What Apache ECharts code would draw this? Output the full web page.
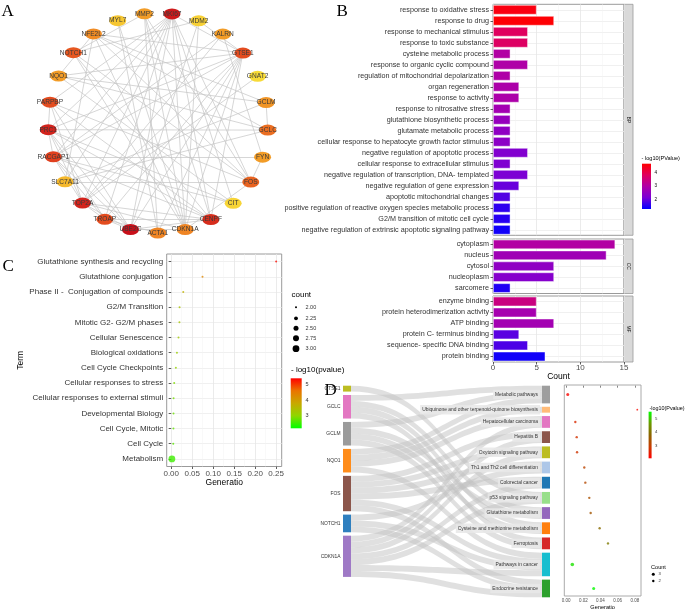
<!DOCTYPE html>
<html><head><meta charset="utf-8">
<script src="https://cdn.jsdelivr.net/npm/echarts@6/dist/echarts.min.js"></script>
<style>html,body{margin:0;padding:0;background:#fff}#c{width:685px;height:610px}</style>
</head><body><div id="c"></div><script>
// ---------- Panel A: PPI network ----------
const netNodes = ['GCLC','FYN','FOS','CIT','CENPF','CDKN1A','ACTA1','UBE2C','TROAP','TOP2A','SLC7A11','RACGAP1','PRC1','PARPBP','NQO1','NOTCH1','NFE2L2','MYL7','MMP2','MKI67','MDM2','KALRN','GTSE1','GNAT2','GCLM'];
const netScore = [0.55,0.35,0.6,0.08,0.85,0.45,0.45,1.0,0.7,0.9,0.22,0.75,0.9,0.7,0.35,0.65,0.42,0.15,0.35,0.95,0.1,0.35,0.7,0.05,0.38];
const netEdges = [
['MKI67','TOP2A'],['MKI67','PRC1'],['MKI67','UBE2C'],['MKI67','CENPF'],['MKI67','TROAP'],['MKI67','RACGAP1'],['MKI67','PARPBP'],['MKI67','GTSE1'],['MKI67','CIT'],['MKI67','CDKN1A'],
['TOP2A','PRC1'],['TOP2A','UBE2C'],['TOP2A','CENPF'],['TOP2A','TROAP'],['TOP2A','RACGAP1'],['TOP2A','PARPBP'],['TOP2A','GTSE1'],['TOP2A','CDKN1A'],['TOP2A','KALRN'],
['PRC1','UBE2C'],['PRC1','CENPF'],['PRC1','TROAP'],['PRC1','RACGAP1'],['PRC1','PARPBP'],['PRC1','GTSE1'],['PRC1','CIT'],['PRC1','GCLC'],
['UBE2C','CENPF'],['UBE2C','TROAP'],['UBE2C','RACGAP1'],['UBE2C','GTSE1'],['UBE2C','CDKN1A'],['UBE2C','PARPBP'],['UBE2C','MDM2'],
['CENPF','RACGAP1'],['CENPF','TROAP'],['CENPF','GTSE1'],['CENPF','PARPBP'],['CENPF','NOTCH1'],
['RACGAP1','TROAP'],['RACGAP1','CIT'],['RACGAP1','GTSE1'],['RACGAP1','KALRN'],['RACGAP1','FYN'],
['GTSE1','CDKN1A'],['GTSE1','MDM2'],['GTSE1','TROAP'],['GTSE1','NQO1'],['GTSE1','ACTA1'],
['CDKN1A','MDM2'],['CDKN1A','FOS'],['CDKN1A','NOTCH1'],['CDKN1A','NFE2L2'],['CDKN1A','MMP2'],['CDKN1A','MYL7'],
['NFE2L2','NQO1'],['NFE2L2','GCLM'],['NFE2L2','GCLC'],['NFE2L2','SLC7A11'],['NFE2L2','FOS'],['NFE2L2','GTSE1'],
['NQO1','GCLC'],['NQO1','GCLM'],['GCLM','GCLC'],['SLC7A11','GCLM'],['SLC7A11','GCLC'],['SLC7A11','FOS'],
['FOS','NOTCH1'],['FOS','MMP2'],['FOS','FYN'],['FOS','PARPBP'],['MMP2','ACTA1'],['MYL7','ACTA1'],['FYN','KALRN'],
['GNAT2','TOP2A'],['NOTCH1','MDM2'],['MMP2','NOTCH1'],['MMP2','CENPF'],['ACTA1','TROAP'],['CIT','NQO1'],['MKI67','FOS'],['MKI67','SLC7A11']
];

// ---------- Panel B: GO enrichment ----------
const bpTerms = ['response to oxidative stress','response to drug','response to mechanical stimulus','response to toxic substance','cysteine metabolic process','response to organic cyclic compound','regulation of mitochondrial depolarization','organ regeneration','response to activity','response to nitrosative stress','glutathione biosynthetic process','glutamate metabolic process','cellular response to hepatocyte growth factor stimulus','negative regulation of apoptotic process','cellular response to extracellular stimulus','negative regulation of transcription, DNA- templated','negative regulation of gene expression','apoptotic mitochondrial changes','positive regulation of reactive oxygen species metabolic process','G2/M transition of mitotic cell cycle','negative regulation of extrinsic apoptotic signaling pathway'];
const bpCount = [5,7,4,4,2,4,2,3,3,2,2,2,2,4,2,4,3,2,2,2,2];
const bpLogP = [4.5,4.6,3.8,3.75,3.0,2.95,2.95,2.9,2.9,2.75,2.55,2.45,2.4,2.25,2.2,2.15,2.0,1.85,1.6,1.55,1.4];
const ccTerms = ['cytoplasm','nucleus','cytosol','nucleoplasm','sarcomere'];
const ccCount = [14,13,7,7,2];
const ccLogP = [3.0,2.7,2.45,2.3,1.5];
const mfTerms = ['enzyme binding','protein heterodimerization activity','ATP binding','protein C- terminus binding','sequence- specific DNA binding','protein binding'];
const mfCount = [5,5,7,3,4,6];
const mfLogP = [3.4,2.8,2.75,1.9,1.8,1.4];
const goStrips = ['BP','CC','MF'];

// ---------- Panel C: Reactome dot plot ----------
const reTerms = ['Glutathione synthesis and recycling','Glutathione conjugation','Phase II -  Conjugation of compounds','G2/M Transition','Mitotic G2- G2/M phases','Cellular Senescence','Biological oxidations','Cell Cycle Checkpoints','Cellular responses to stress','Cellular responses to external stimuli','Developmental Biology','Cell Cycle, Mitotic','Cell Cycle','Metabolism'];
const reRatio = [0.25,0.0745,0.0286,0.0199,0.0195,0.0173,0.0136,0.011,0.0071,0.0056,0.0054,0.0052,0.0048,0.0016];
const reCount = [2,2,2,2,2,2,2,2,2,2,2,2,2,3];
const reLogP = [5.3,4.3,3.65,3.35,3.3,3.25,3.15,3.05,2.9,2.85,2.8,2.75,2.7,2.55];
const reSizeLegend = [2.00,2.25,2.50,2.75,3.00];
const reColorTicks = [5,4,3];

// ---------- Panel D: KEGG sankey + dot plot ----------
const keggGenes = ['GTSE1','GCLC','GCLM','NQO1','FOS','NOTCH1','CDKN1A'];
const keggPaths = ['Metabolic pathways','Ubiquinone and other terpenoid-quinone biosynthesis','Hepatocellular carcinoma','Hepatitis B','Oxytocin signaling pathway','Th1 and Th2 cell differentiation','Colorectal cancer','p53 signaling pathway','Glutathione metabolism','Cysteine and methionine metabolism','Ferroptosis','Pathways in cancer','Endocrine resistance'];
const keggLinks = [
['GTSE1','p53 signaling pathway'],
['GCLC','Metabolic pathways'],['GCLC','Glutathione metabolism'],['GCLC','Cysteine and methionine metabolism'],['GCLC','Ferroptosis'],
['GCLM','Metabolic pathways'],['GCLM','Glutathione metabolism'],['GCLM','Cysteine and methionine metabolism'],['GCLM','Ferroptosis'],
['NQO1','Metabolic pathways'],['NQO1','Ubiquinone and other terpenoid-quinone biosynthesis'],['NQO1','Hepatocellular carcinoma'],['NQO1','Pathways in cancer'],
['FOS','Hepatitis B'],['FOS','Oxytocin signaling pathway'],['FOS','Th1 and Th2 cell differentiation'],['FOS','Colorectal cancer'],['FOS','Pathways in cancer'],['FOS','Endocrine resistance'],
['NOTCH1','Th1 and Th2 cell differentiation'],['NOTCH1','Pathways in cancer'],['NOTCH1','Endocrine resistance'],
['CDKN1A','Hepatocellular carcinoma'],['CDKN1A','Hepatitis B'],['CDKN1A','Oxytocin signaling pathway'],['CDKN1A','Colorectal cancer'],['CDKN1A','p53 signaling pathway'],['CDKN1A','Pathways in cancer'],['CDKN1A','Endocrine resistance']
];
const keggRatio = [0.002,0.0827,0.0108,0.0124,0.0128,0.0212,0.0224,0.027,0.0286,0.039,0.0487,0.0073,0.0321];
const keggLogP = [2.1,2.15,2.65,2.75,2.8,3.1,3.2,3.35,3.45,3.9,4.15,5.3,5.5];
const keggColorTicks = [5,4,3];
const keggCountLegend = [3,2];

// ---------- styles ----------
const FONT = '"Liberation Sans", Arial, Helvetica, sans-serif';
const geneColors = ['#bcbd22','#e377c2','#9b9b9b','#ff8c1a','#8c564b','#2f7fbf','#9f79c6'];
const pathColors = ['#9e9e9e','#ffbb78','#e377c2','#8c564b','#bcbd22','#aec7e8','#1f77b4','#98df8a','#9467bd','#ff7f0e','#d62728','#17becf','#2ca02c'];
const netPalette = ['#f8e43c','#f5b22a','#ee7a22','#e0401e','#c8101a'];
const bPalette = ['#0000ff','#7a00d6','#b000a6','#e0005e','#ff0000'];
const cPalette = ['#00ff00','#8fd600','#c8a800','#ea7400','#ff0000'];
const dPalette = ['#ff0000','#c83c00','#8c6400','#6a9a00','#00ff00'];
const bRange = [1.28, 4.64], cRange = [2.2, 5.38], dRange = [2.02, 5.55];
const lerp = (v, r, pal) => echarts.color.lerp(Math.max(0, Math.min(1, (v - r[0]) / (r[1] - r[0]))), pal);
const stops = (pal, reverse) => pal.map((c, i) => ({offset: reverse ? 1 - i / (pal.length - 1) : i / (pal.length - 1), color: c}));

// ---------- layout constants ----------
const bLeft = 493, bWidth = 131;
const bGrids = [{top: 4.3, height: 231}, {top: 239, height: 54.5}, {top: 296, height: 66}];
const cGrid = {left: 166.7, top: 254, width: 115, height: 212.5};
const dGrid = {left: 564.3, top: 385, width: 76.7, height: 211};
const sk = {left: 343, top: 385.7, width: 207, height: 211.6, gap: 3.4};

// D: y positions of dots follow sankey node centres (in link-count units)
const pathCount = keggPaths.map(p => keggLinks.filter(l => l[1] === p).length);
const ky = (sk.height - (keggPaths.length - 1) * sk.gap) / keggLinks.length;
const gapU = sk.gap / ky;
let cum = 0;
const pathCenter = pathCount.map((c, i) => { const v = cum + c / 2 + i * gapU; cum += c; return v; });
const dyMin = (dGrid.top - sk.top) / ky, dyMax = dyMin + dGrid.height / ky;

const sizeC = c => Math.sqrt(4 + (c - 2) * 42);
const sizeD = c => 1.2 + 0.6 * c;

// ---------- axes ----------
const grids = [], xAxes = [], yAxes = [], series = [];
const bTerms = [bpTerms, ccTerms, mfTerms], bCounts = [bpCount, ccCount, mfCount], bLogs = [bpLogP, ccLogP, mfLogP];
bGrids.forEach((g, i) => {
  grids.push({left: bLeft, top: g.top, width: bWidth, height: g.height, show: true, backgroundColor: '#fff', borderColor: '#9a9a9a', borderWidth: 1, containLabel: false, outerBoundsMode: 'none'});
  xAxes.push({gridIndex: i, type: 'value', min: 0, max: 15, interval: 5,
    axisLine: {show: false}, axisTick: {show: i === 2, length: 2.5, lineStyle: {color: '#333', width: 0.8}},
    axisLabel: {show: i === 2, fontSize: 8, color: '#4d4d4d', margin: 1.5},
    splitLine: {show: true, lineStyle: {color: '#e6e6e6', width: 0.8}},
    minorTick: {show: false, splitNumber: 2}, minorSplitLine: {show: true, lineStyle: {color: '#f3f3f3', width: 0.5}},
    name: i === 2 ? 'Count' : '', nameLocation: 'middle', nameGap: 8.5, nameTextStyle: {fontSize: 8.5, color: '#000', verticalAlign: 'top'}});
  yAxes.push({gridIndex: i, type: 'category', data: bTerms[i], inverse: true,
    axisLine: {show: false}, axisTick: {show: true, alignWithLabel: true, length: 2.5, lineStyle: {color: '#333', width: 0.8}},
    axisLabel: {fontSize: 7.2, color: '#333', margin: 4},
    splitLine: {show: true, alignWithLabel: true, lineStyle: {color: '#ececec', width: 0.8}}});
  series.push({type: 'bar', xAxisIndex: i, yAxisIndex: i, barWidth: '88%',
    data: bCounts[i].map((c, j) => ({value: c, itemStyle: {color: lerp(bLogs[i][j], bRange, bPalette)}})),
    itemStyle: {borderColor: 'rgba(255,255,255,0.55)', borderWidth: 0.8}, silent: true});
});

// C
grids.push({left: cGrid.left, top: cGrid.top, width: cGrid.width, height: cGrid.height, show: true, backgroundColor: '#fff', borderColor: '#9a9a9a', borderWidth: 1, containLabel: false, outerBoundsMode: 'none'});
xAxes.push({gridIndex: 3, type: 'value', min: -0.0108, max: 0.2632, splitNumber: 5,
  axisLine: {show: false},
  axisTick: {show: true, length: 2.5, lineStyle: {color: '#333', width: 0.8}, customValues: [0, 0.05, 0.1, 0.15, 0.2, 0.25]},
  axisLabel: {fontSize: 8, color: '#4d4d4d', margin: 2.8, formatter: v => v.toFixed(2), customValues: [0, 0.05, 0.1, 0.15, 0.2, 0.25]},
  splitLine: {show: true, lineStyle: {color: '#e6e6e6', width: 0.8}},
  minorTick: {show: false, splitNumber: 2}, minorSplitLine: {show: true, lineStyle: {color: '#f3f3f3', width: 0.5}},
  name: 'Generatio', nameLocation: 'middle', nameGap: 12, nameTextStyle: {fontSize: 8.5, color: '#000', verticalAlign: 'top'}});
yAxes.push({gridIndex: 3, type: 'category', data: reTerms, inverse: true,
  axisLine: {show: false}, axisTick: {show: true, alignWithLabel: true, length: 2.5, lineStyle: {color: '#333', width: 0.8}},
  axisLabel: {fontSize: 8, color: '#333', margin: 3.5},
  splitLine: {show: true, alignWithLabel: true, lineStyle: {color: '#ececec', width: 0.8}},
  name: 'Term', nameLocation: 'middle', nameRotate: 90, nameGap: 142, nameTextStyle: {fontSize: 8.5, color: '#000'}});
series.push({type: 'scatter', xAxisIndex: 3, yAxisIndex: 3, silent: true,
  data: reTerms.map((t, j) => ({value: [reRatio[j], j], symbolSize: sizeC(reCount[j]), itemStyle: {color: lerp(reLogP[j], cRange, cPalette)}}))});

// D dot plot
grids.push({left: dGrid.left, top: dGrid.top, width: dGrid.width, height: dGrid.height, show: true, backgroundColor: '#fff', borderColor: '#a0a0a0', borderWidth: 0.9, containLabel: false, outerBoundsMode: 'none'});
xAxes.push({gridIndex: 4, type: 'value', min: -0.002, max: 0.087, splitNumber: 5,
  axisLine: {show: false},
  axisTick: {show: true, length: 2, lineStyle: {color: '#333', width: 0.6}, customValues: [0, 0.02, 0.04, 0.06, 0.08]},
  axisLabel: {fontSize: 4.5, color: '#4d4d4d', margin: 1.8, formatter: v => v.toFixed(2), customValues: [0, 0.02, 0.04, 0.06, 0.08]},
  splitLine: {show: false},
  name: 'Generatio', nameLocation: 'middle', nameGap: 8, nameTextStyle: {fontSize: 5.6, color: '#000', verticalAlign: 'top'}});
yAxes.push({gridIndex: 4, type: 'value', min: dyMin, max: dyMax, inverse: true, show: false, splitLine: {show: false}});
series.push({type: 'scatter', xAxisIndex: 4, yAxisIndex: 4, silent: true,
  data: keggPaths.map((p, j) => ({value: [keggRatio[j], pathCenter[j]], symbolSize: sizeD(pathCount[j]), itemStyle: {color: lerp(keggLogP[j], dRange, dPalette)}}))});

// D sankey
series.push({type: 'sankey', left: sk.left, top: sk.top, width: sk.width, height: sk.height,
  nodeWidth: 8, nodeGap: sk.gap, layoutIterations: 0, nodeAlign: 'justify', draggable: false, silent: true,
  emphasis: {disabled: true},
  data: keggGenes.map((g, i) => ({name: g, itemStyle: {color: geneColors[i]}, label: {position: 'left', distance: 2.5}}))
    .concat(keggPaths.map((p, i) => ({name: p, itemStyle: {color: pathColors[i]},
      label: {position: 'left', distance: 2, backgroundColor: 'rgba(232,232,232,0.85)', padding: [2.2, 2, 2.2, 2]}}))),
  links: keggLinks.map(l => ({source: l[0], target: l[1], value: 1})),
  itemStyle: {borderWidth: 0},
  lineStyle: {color: '#c2c2c2', opacity: 0.5, curveness: 0.5},
  label: {fontSize: 4.9, color: '#333'}});

// A network in polar coordinates (category angle axis = gene order)
series.push({type: 'graph', coordinateSystem: 'polar', polarIndex: 0, silent: true,
  symbol: 'circle', symbolSize: [17, 11],
  data: netNodes.map((n, i) => ({name: n, value: [1, i], itemStyle: {color: lerp(netScore[i], [0, 1], netPalette)}})),
  links: netEdges.map(e => ({source: e[0], target: e[1]})),
  lineStyle: {color: '#c4c4c4', width: 0.7, opacity: 1, curveness: 0},
  label: {show: true, position: 'inside', fontSize: 6.6, color: '#3a3a3a'},
  emphasis: {disabled: true}});

// ---------- graphic (panel letters, strips, legends) ----------
const gfx = [];
const txt = (x, y, t, size, opt) => gfx.push(Object.assign({type: 'text', x, y, silent: true,
  style: Object.assign({text: t, fontSize: size, fontFamily: FONT, fill: '#000', align: 'left', verticalAlign: 'middle'}, (opt || {}))}));
[['A', 1.5, 3], ['B', 336.5, 3.5], ['C', 2.5, 258.5], ['D', 324.5, 382]].forEach(L =>
  gfx.push({type: 'text', x: L[1], y: L[2], silent: true, style: {text: L[0], fontSize: 17, fontFamily: '"Liberation Serif", "Times New Roman", serif', fill: '#000', align: 'left', verticalAlign: 'top'}}));
// strips
bGrids.forEach((g, i) => {
  gfx.push({type: 'rect', silent: true, shape: {x: 624, y: g.top, width: 9, height: g.height}, style: {fill: '#d9d9d9', stroke: '#9a9a9a', lineWidth: 0.8}});
  gfx.push({type: 'text', silent: true, x: 628.5, y: g.top + g.height / 2, rotation: -Math.PI / 2,
    style: {text: goStrips[i], fontSize: 5, fontFamily: FONT, fill: '#1a1a1a', align: 'center', verticalAlign: 'middle'}});
});
// B colour bar
const bBar = {x: 642, y: 163.7, w: 9, h: 45.3};
txt(641.5, 158, '- log10(PValue)', 5.6);
gfx.push({type: 'rect', silent: true, shape: {x: bBar.x, y: bBar.y, width: bBar.w, height: bBar.h},
  style: {fill: {type: 'linear', x: 0, y: 0, x2: 0, y2: 1, colorStops: stops(bPalette, true)}}});
[2, 3, 4].forEach(v => txt(654.5, bBar.y + (bRange[1] - v) / (bRange[1] - bRange[0]) * bBar.h, String(v), 4.6));
// C legends
txt(291.5, 295, 'count', 8);
const cDotY = [307.3, 318.3, 328.3, 338.3, 348.7];
reSizeLegend.forEach((c, i) => {
  gfx.push({type: 'circle', silent: true, shape: {cx: 296, cy: cDotY[i], r: sizeC(c) / 2}, style: {fill: '#000'}});
  txt(305.5, cDotY[i], c.toFixed(2), 5.5, {fill: '#333'});
});
txt(291, 370, '- log10(pvalue)', 8);
const cBar = {x: 290.7, y: 378.3, w: 11, h: 50};
gfx.push({type: 'rect', silent: true, shape: {x: cBar.x, y: cBar.y, width: cBar.w, height: cBar.h},
  style: {fill: {type: 'linear', x: 0, y: 0, x2: 0, y2: 1, colorStops: stops(cPalette, true)}}});
reColorTicks.forEach(v => txt(305.5, cBar.y + (cRange[1] - v) / (cRange[1] - cRange[0]) * cBar.h, String(v), 5.5, {fill: '#333'}));
// D legends
txt(649.5, 408.3, '-log10(Pvalue)', 5.4);
const dBar = {x: 648.6, y: 411.7, w: 3, h: 46.6};
gfx.push({type: 'rect', silent: true, shape: {x: dBar.x, y: dBar.y, width: dBar.w, height: dBar.h},
  style: {fill: {type: 'linear', x: 0, y: 0, x2: 0, y2: 1, colorStops: stops(dPalette, true)}}});
keggColorTicks.forEach(v => txt(655, dBar.y + (dRange[1] - v) / (dRange[1] - dRange[0]) * dBar.h, String(v), 4.3, {fill: '#333'}));
txt(651, 567.3, 'Count', 5.6);
const dDotY = [574.3, 581];
keggCountLegend.forEach((c, i) => {
  gfx.push({type: 'circle', silent: true, shape: {cx: 653.3, cy: dDotY[i], r: sizeD(c) / 2}, style: {fill: '#000'}});
  txt(658.5, dDotY[i], String(c), 4.2, {fill: '#333'});
});

const option = {
  animation: false,
  backgroundColor: '#fff',
  textStyle: {fontFamily: FONT},
  grid: grids, xAxis: xAxes, yAxis: yAxes,
  polar: [{center: [158, 123], radius: 110}],
  angleAxis: [{polarIndex: 0, type: 'category', data: netNodes, startAngle: 3.5, clockwise: true,
    axisLine: {show: false}, axisTick: {show: false}, axisLabel: {show: false}, splitLine: {show: false}}],
  radiusAxis: [{polarIndex: 0, type: 'value', min: 0, max: 1,
    axisLine: {show: false}, axisTick: {show: false}, axisLabel: {show: false}, splitLine: {show: false}}],
  series: series,
  graphic: gfx
};
const chart = echarts.init(document.getElementById('c'));
chart.setOption(option);
</script></body></html>
